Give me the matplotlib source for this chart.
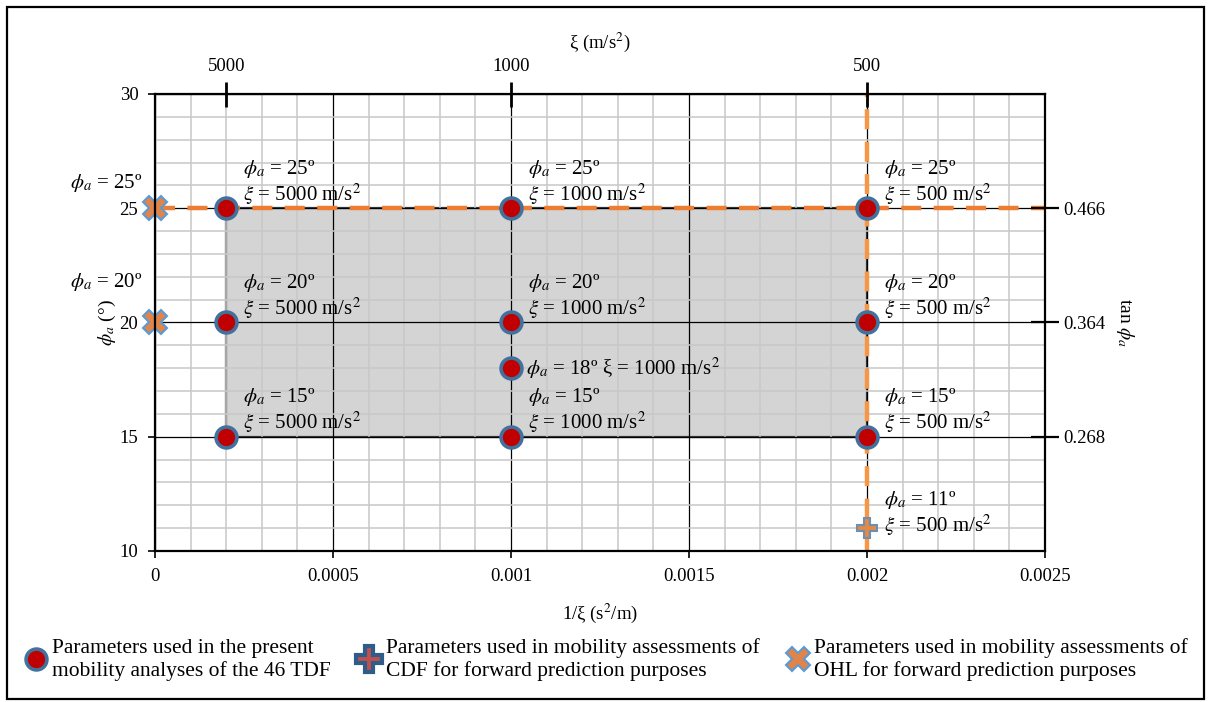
import matplotlib
matplotlib.use("Agg")
import matplotlib.pyplot as plt
from matplotlib.patches import Rectangle
from matplotlib.lines import Line2D
from matplotlib.ticker import MultipleLocator, FixedLocator, FixedFormatter

plt.rcParams['font.family'] = ['Liberation Serif', 'DejaVu Serif']
plt.rcParams['mathtext.fontset'] = 'stix'

# data
present_x = [0.0002, 0.0002, 0.0002, 0.001, 0.001, 0.001, 0.001, 0.002, 0.002, 0.002]
present_phi = [15, 20, 25, 15, 18, 20, 25, 15, 20, 25]
present_xi = [5000, 5000, 5000, 1000, 1000, 1000, 1000, 500, 500, 500]
cdf_x = [0.002]
cdf_phi = [11]
cdf_xi = [500]
ohl_x = [0, 0]
ohl_phi = [25, 20]

bottom_ticks = [0, 0.0005, 0.001, 0.0015, 0.002, 0.0025]
bottom_labels = ['0', '0.0005', '0.001', '0.0015', '0.002', '0.0025']
top_xi = [5000, 1000, 500]
right_phi = [15, 20, 25]
right_tan = ['0.268', '0.364', '0.466']

legend_labels = ['Parameters used in the present\nmobility analyses of the 46 TDF',
                 'Parameters used in mobility assessments of\nCDF for forward prediction purposes',
                 'Parameters used in mobility assessments of\nOHL for forward prediction purposes']

red = '#C00000'
blue_edge = '#41719C'
orange = '#ED7D31'
orange_light = '#F79646'
fs_tick = 13.5
fs_note = 15

fig = plt.figure(figsize=(12.13, 7.02), dpi=100)
ax = fig.add_axes([0.1278, 0.2151, 0.7337, 0.6510])
ax.set_xlim(0, 0.0025)
ax.set_ylim(10, 30)

# grid
ax.xaxis.set_major_locator(FixedLocator(bottom_ticks))
ax.xaxis.set_major_formatter(FixedFormatter(bottom_labels))
ax.xaxis.set_minor_locator(MultipleLocator(0.0001))
ax.yaxis.set_major_locator(MultipleLocator(5))
ax.yaxis.set_minor_locator(MultipleLocator(1))
ax.set_axisbelow(False)
ax.grid(which='minor', color='#C8C8C8', lw=1.1, zorder=2)
ax.grid(which='major', color='black', lw=0.9, zorder=2.2)
ax.tick_params(which='minor', length=0)
ax.tick_params(which='major', direction='out', length=5, width=1.2, labelsize=fs_tick)
ax.tick_params(axis='x', pad=7)
ax.tick_params(axis='y', pad=7)
for s in ax.spines.values():
    s.set_linewidth(1.6)
    s.set_zorder(6)

# shaded region
ax.add_patch(Rectangle((min(present_x), min(present_phi)),
                       max(present_x) - min(present_x), max(present_phi) - min(present_phi),
                       facecolor='#D4D4D4', edgecolor='#3A3A3A', lw=1.6, zorder=1))

# dashed orange lines
ax.axhline(max(ohl_phi), xmin=0, xmax=1, color=orange, lw=3.2, dashes=(4.5, 2.8), zorder=3, clip_on=False)
ax.axvline(cdf_x[0], color=orange_light, lw=3.2, dashes=(4.5, 2.8), zorder=3)

# markers
ax.plot(present_x, present_phi, 'o', ms=15, mfc=red, mec=blue_edge, mew=2.6, zorder=5, clip_on=False)
ax.plot(cdf_x, cdf_phi, 'P', ms=15, mfc='#E0894A', mec='#6E8FAE', mew=1.5, zorder=5)
ax.plot(ohl_x, ohl_phi, 'X', ms=17, mfc='#E0844A', mec='#5B9BD5', mew=1.5, zorder=5, clip_on=False)

# annotations
for x, p, xi in zip(present_x, present_phi, present_xi):
    if p == 18:
        ax.annotate('$\\phi_a$ = %dº ξ = %d m/s$^2$' % (p, xi), (x, p), xytext=(11, 0),
                    textcoords='offset points', ha='left', va='center', fontsize=fs_note, zorder=7)
    else:
        ax.annotate('$\\phi_a$ = %dº\n$\\xi$ = %d m/s$^2$' % (p, xi), (x, p), xytext=(12, 1),
                    textcoords='offset points', ha='left', va='bottom', fontsize=fs_note,
                    linespacing=1.1, zorder=7)
for x, p, xi in zip(cdf_x, cdf_phi, cdf_xi):
    ax.annotate('$\\phi_a$ = %dº\n$\\xi$ = %d m/s$^2$' % (p, xi), (x, p), xytext=(12, -7),
                textcoords='offset points', ha='left', va='bottom', fontsize=fs_note,
                linespacing=1.1, zorder=7)
for x, p, dy in zip(ohl_x, ohl_phi, [18, 29]):
    ax.annotate('$\\phi_a$ = %dº' % p, (x, p), xytext=(-9, dy),
                textcoords='offset points', ha='right', va='center', fontsize=fs_note,
                annotation_clip=False, zorder=7)

ax.set_xlabel('1/ξ (s$^2$/m)', fontsize=fs_tick, labelpad=12)
ax.set_ylabel('$\\phi_a$ (°)', fontsize=14, labelpad=1)

# top axis
axt = ax.twiny()
axt.set_xlim(ax.get_xlim())
axt.set_xticks([1 / v for v in top_xi])
axt.set_xticklabels([str(v) for v in top_xi])
axt.tick_params(direction='inout', length=18, width=2, labelsize=fs_tick, pad=5)
axt.set_xlabel('ξ (m/s$^2$)', fontsize=fs_tick, labelpad=7)
for s in axt.spines.values():
    s.set_visible(False)

# right axis
axr = ax.twinx()
axr.set_ylim(ax.get_ylim())
axr.set_yticks(right_phi)
axr.set_yticklabels(right_tan)
axr.tick_params(direction='inout', length=20, width=1.6, labelsize=fs_tick, pad=3)
axr.set_ylabel('tan $\\phi_a$', fontsize=14, rotation=270, labelpad=22)
for s in axr.spines.values():
    s.set_visible(False)

# legend
handles = [Line2D([], [], ls='none', marker='o', ms=15, mfc=red, mec=blue_edge, mew=2.6),
           Line2D([], [], ls='none', marker='P', ms=19, mfc='#C0504D', mec='#2F5D8A', mew=3),
           Line2D([], [], ls='none', marker='X', ms=17, mfc='#E0844A', mec='#5B9BD5', mew=1.5)]
fig.legend(handles, legend_labels, loc='center', bbox_to_anchor=(0.5, 0.06), ncol=3,
           frameon=False, fontsize=15.5, handlelength=1.0, handletextpad=0.25,
           columnspacing=1.3, borderpad=0, labelspacing=0)

# outer frame
fig.patches.append(Rectangle((0.006, 0.004), 0.9865, 0.986, transform=fig.transFigure,
                             fill=False, edgecolor='black', lw=1.6))

fig.savefig('out.png', dpi=100)
